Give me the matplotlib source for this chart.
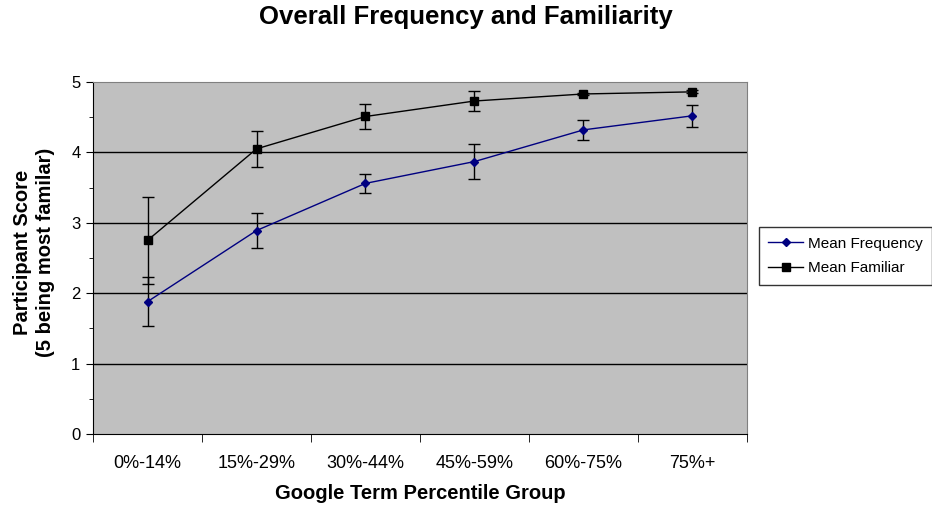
import matplotlib
matplotlib.use("Agg")
import matplotlib.pyplot as plt
from matplotlib.ticker import MultipleLocator, FixedLocator

plt.rcParams['font.family'] = ['Liberation Sans', 'DejaVu Sans']

categories = ["0%-14%", "15%-29%", "30%-44%", "45%-59%", "60%-75%", "75%+"]
mean_frequency = [1.88, 2.89, 3.56, 3.87, 4.32, 4.52]
freq_err = [0.35, 0.25, 0.14, 0.25, 0.14, 0.16]
mean_familiar = [2.75, 4.05, 4.51, 4.73, 4.83, 4.86]
fam_err = [0.62, 0.26, 0.18, 0.14, 0.02, 0.02]

fig = plt.figure(figsize=(9.32, 5.12), dpi=100)
ax = fig.add_axes([93/932, 78/512, (747-93)/932, (434-82)/512])
ax.set_facecolor('#C0C0C0')

x = list(range(len(categories)))
ax.errorbar(x, mean_frequency, yerr=freq_err, fmt='none', ecolor='black',
            elinewidth=1, capsize=4, capthick=1, zorder=3)
ax.errorbar(x, mean_familiar, yerr=fam_err, fmt='none', ecolor='black',
            elinewidth=1, capsize=4, capthick=1, zorder=3)
ax.plot(x, mean_frequency, color='#000080', marker='D', markersize=4.5,
        linewidth=1, label='Mean Frequency', zorder=4)
ax.plot(x, mean_familiar, color='black', marker='s', markersize=6,
        linewidth=1, label='Mean Familiar', zorder=4)

ax.set_xlim(-0.5, len(categories) - 0.5)
ax.set_ylim(0, 5)
ax.yaxis.set_major_locator(MultipleLocator(1))
ax.yaxis.set_minor_locator(MultipleLocator(0.5))
for yv in [1, 2, 3, 4]:
    ax.axhline(yv, color='black', linewidth=1, zorder=1)

ax.set_xticks(x)
ax.set_xticklabels(categories, fontsize=13)
ax.xaxis.set_minor_locator(FixedLocator([i - 0.5 for i in range(len(categories) + 1)]))
ax.tick_params(axis='x', which='major', length=0, pad=15)
ax.tick_params(axis='x', which='minor', length=6, direction='out', color='black')
ax.tick_params(axis='y', which='major', length=5, direction='out', labelsize=12, pad=4)
ax.tick_params(axis='y', which='minor', length=3, direction='out')

for s in ['top', 'right']:
    ax.spines[s].set_color('#808080')
for s in ['left', 'bottom']:
    ax.spines[s].set_color('black')

ax.set_xlabel("Google Term Percentile Group", fontsize=14.5, fontweight='bold', labelpad=9)
ax.set_ylabel("Participant Score\n(5 being most familar)", fontsize=14.5, fontweight='bold',
              linespacing=1.25)
ax.yaxis.set_label_coords(-0.058, 0.517)
fig.suptitle("Overall Frequency and Familiarity", fontsize=18.5, fontweight='bold', y=0.99)

leg = ax.legend(loc='center left', bbox_to_anchor=(759/932, (512-256)/512),
                bbox_transform=fig.transFigure, frameon=True,
                fancybox=False, edgecolor='black', fontsize=11, handlelength=2.3,
                borderpad=0.6, labelspacing=0.7, handletextpad=0.3, borderaxespad=0)
leg.get_frame().set_linewidth(1)

fig.savefig("out.png", dpi=100, facecolor='white')
